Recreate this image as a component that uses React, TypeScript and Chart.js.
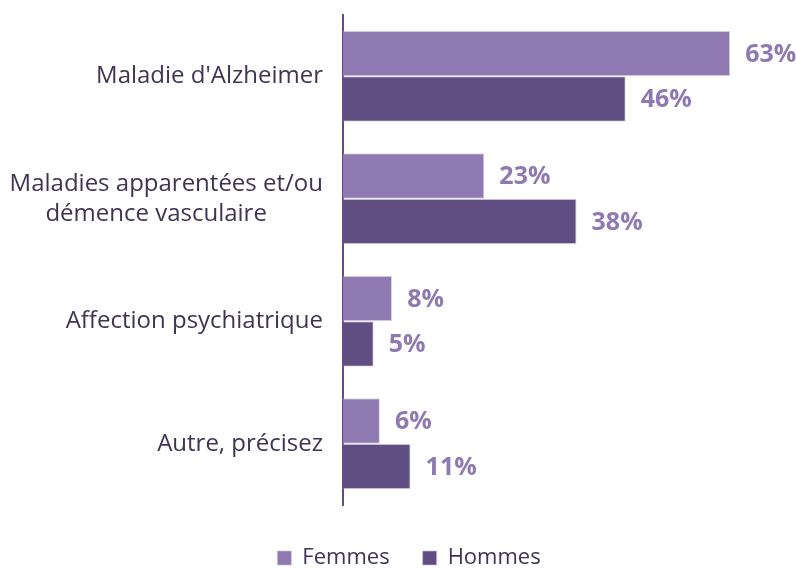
import React, { useEffect, useRef } from "react";
import { Chart, registerables } from "chart.js";

Chart.register(...registerables);

const categories: (string | string[])[] = [
  "Maladie d'Alzheimer",
  ["Maladies apparentées et/ou", "démence vasculaire" + "\u00a0".repeat(9)],
  "Affection psychiatrique",
  "Autre, précisez",
];
const femmes = [63, 23, 8, 6];
const hommes = [46, 38, 5, 11];
const seriesNames = ["Femmes", "Hommes"];

const LIGHT = "#8E79B1";
const DARK = "#604D82";
const TEXT = "#3F3452";

const valueLabels = {
  id: "valueLabels",
  afterDatasetsDraw(chart: any) {
    const ctx = chart.ctx;
    ctx.save();
    ctx.font = "bold 25px 'Open Sans'";
    ctx.fillStyle = LIGHT;
    ctx.textAlign = "left";
    ctx.textBaseline = "middle";
    chart.data.datasets.forEach((ds: any, di: number) => {
      const meta = chart.getDatasetMeta(di);
      meta.data.forEach((bar: any, i: number) => {
        ctx.fillText(ds.data[i] + "%", bar.x + 15, bar.y + 1);
      });
    });
    ctx.restore();
  },
};

const legendShift = {
  id: "legendShift",
  afterLayout(chart: any) {
    if (chart.legend) {
      chart.legend.left += 7;
      chart.legend.right += 7;
    }
  },
};

export default function App() {
  const ref = useRef<HTMLCanvasElement>(null);
  useEffect(() => {
    const chart = new Chart(ref.current!, {
      type: "bar",
      data: {
        labels: categories,
        datasets: [
          {
            label: seriesNames[0],
            data: femmes,
            backgroundColor: LIGHT,
            borderColor: "rgba(200,190,225,0.6)",
            borderWidth: 1,
          },
          {
            label: seriesNames[1],
            data: hommes,
            backgroundColor: DARK,
            borderColor: "rgba(200,190,225,0.6)",
            borderWidth: 1,
          },
        ],
      },
      options: {
        indexAxis: "y",
        animation: false,
        responsive: false,
        maintainAspectRatio: false,
        datasets: { bar: { categoryPercentage: 0.743, barPercentage: 1 } },
        layout: { padding: { top: 15, right: 0, left: 8, bottom: -11 } },
        scales: {
          x: {
            min: 0,
            max: 73.7,
            grid: { display: false },
            border: { display: false },
            ticks: { display: false },
            afterFit: (s: any) => {
              s.height = 9;
              s.paddingLeft = 0;
              s.paddingRight = 0;
            },
          },
          y: {
            grid: { display: false },
            border: { display: true, color: DARK, width: 2 },
            ticks: {
              padding: 12,
              color: TEXT,
              font: { family: "'Open Sans'", size: 24, lineHeight: 1.25 },
            },
            afterFit: (s: any) => {
              s.width = 335;
              s.paddingTop = 0;
              s.paddingBottom = 0;
            },
          },
        },
        plugins: {
          legend: {
            position: "bottom",
            labels: {
              boxWidth: 14,
              boxHeight: 14,
              padding: 33,
              color: TEXT,
              font: { family: "'Open Sans'", size: 22 },
            },
          },
          tooltip: { enabled: false },
        },
      },
      plugins: [valueLabels, legendShift],
    });
    return () => chart.destroy();
  }, []);
  return (
    <div style={{ position: "fixed", left: 0, top: 0, width: 796, height: 568, background: "#fff" }}>
      <canvas ref={ref} width={796} height={568} style={{ display: "block" }} />
    </div>
  );
}
